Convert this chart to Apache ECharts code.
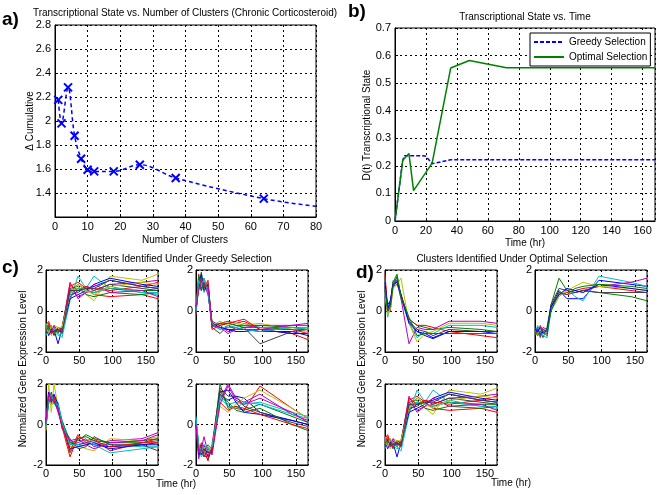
<!DOCTYPE html>
<html><head><meta charset="utf-8">
<script src="https://cdn.jsdelivr.net/npm/echarts@6/dist/echarts.min.js"></script>
<style>html,body{margin:0;padding:0;background:#fff}#c{width:661px;height:495px}</style>
</head><body><div id="c"></div>
<script>
// ---- Panel a data ----
const A_CLUSTERS = [1, 2, 4, 6, 8, 10, 12, 18, 26, 37, 64, 80];
const A_DELTA = [2.176, 1.98, 2.28, 1.877, 1.686, 1.594, 1.58, 1.58, 1.636, 1.525, 1.353, 1.289];
const A_MARKED = [1, 1, 1, 1, 1, 1, 1, 1, 1, 1, 1, 0];
const A_X_TICKS = [0, 10, 20, 30, 40, 50, 60, 70, 80];
const A_Y_TICKS = [1.2, 1.4, 1.6, 1.8, 2, 2.2, 2.4, 2.6, 2.8];

// ---- Panel b data ----
const B_TIME_GREEDY = [0, 5, 6, 18, 20, 24, 30, 36, 168];
const B_GREEDY = [0, 0.22, 0.237, 0.237, 0.235, 0.208, 0.215, 0.222, 0.222];
const B_TIME_OPT = [0, 5, 9, 12, 24, 36, 48, 72, 168];
const B_OPT = [0, 0.22, 0.245, 0.11, 0.21, 0.555, 0.582, 0.556, 0.556];
const B_NAMES = ['Greedy Selection', 'Optimal Selection'];

// ---- Cluster profiles (c, d) ----
const TIMES = [0, 4, 8, 12, 18, 24, 36, 48, 60, 72, 96, 144, 168];
const CLUSTER_COLORS = ['#0000ff', '#008000', '#ff0000', '#00bfbf', '#bf00bf', '#bfbf00', '#404040'];

const C1_LINES = [
  [-1.0,-0.8,-1.1,-0.9,-1.6,-0.9, 0.7, 1.0, 1.1, 1.2, 1.5, 1.2, 1.1],
  [-0.8,-1.0,-0.7,-1.1,-0.9,-1.0, 0.9, 1.3, 1.0, 0.9, 1.1, 1.0, 1.0],
  [-0.7,-0.5,-0.9,-0.8,-1.0,-0.8, 1.2, 1.4, 1.1, 0.8, 0.7, 0.8, 0.6],
  [-1.2,-0.9,-1.0,-0.8,-1.1,-1.3, 0.5, 1.7, 1.1, 1.7, 1.1, 0.9, 0.8],
  [-0.9,-1.1,-0.8,-1.0,-0.9,-0.9, 1.4, 0.6, 0.9, 1.0, 1.3, 1.4, 1.5],
  [-0.6,-0.9,-1.2,-0.7,-0.8,-1.0, 1.0, 1.1, 0.8, 0.5, 1.7, 1.5, 1.8],
  [-1.1,-0.7,-0.9,-1.2,-0.8,-0.9, 0.8, 0.9, 1.2, 1.0, 1.3, 1.1, 1.0],
  [-0.8,-1.2,-0.9,-0.8,-1.0,-1.0, 0.6, 0.8, 1.0, 1.3, 1.6, 1.3, 1.2],
  [-1.0,-0.8,-1.0,-0.9,-1.1,-0.8, 1.1, 1.2, 0.8, 0.7, 0.9, 0.8, 0.9],
  [-0.9,-0.6,-1.0,-1.1,-0.9,-1.0, 1.3, 1.0, 1.2, 1.1, 1.0, 1.2, 1.4],
  [-0.7,-1.0,-0.8,-1.0,-1.2,-1.1, 0.9, 1.1, 1.0, 0.9, 1.2, 0.9, 0.9],
  [-1.0,-0.9,-1.1,-0.7,-1.0,-0.9, 1.1, 0.7, 0.9, 1.3, 0.9, 1.0, 0.7],
  [-0.8,-1.1,-0.7,-0.9,-0.8,-0.8, 0.8, 1.3, 1.0, 0.8, 1.2, 1.4, 1.3],
  [-0.9,-0.8,-1.0,-1.0,-0.9,-1.1, 1.0, 1.0, 1.1, 1.1, 1.5, 1.2, 1.1]
];
const C2_LINES = [
  [ 0.0, 1.5, 1.0, 1.4, 0.9,-0.7,-0.8,-0.9,-0.9,-0.9,-1.0,-1.0,-1.2],
  [ 0.2, 1.2, 1.9, 1.1, 1.3,-0.6,-0.7,-0.6,-0.7,-0.8,-0.8,-0.9,-0.9],
  [-0.1, 1.8, 1.2, 1.6, 1.0,-0.8,-0.6,-0.5,-0.6,-0.5,-0.9,-1.1,-1.4],
  [ 0.3, 1.0, 1.7, 0.9, 1.4,-0.7,-0.9,-0.8,-0.8,-0.6,-0.8,-0.8,-0.8],
  [-0.2, 1.4, 1.1, 1.3, 0.8,-0.5,-0.7,-1.0,-0.9,-0.8,-0.7,-0.7,-0.7],
  [ 0.1, 1.6, 1.3, 1.5, 1.1,-0.7,-0.5,-0.7,-0.6,-0.7,-0.6,-0.9,-1.0],
  [ 0.0, 1.1, 1.5, 1.2, 1.2,-0.8,-1.1,-0.7,-0.9,-0.8,-1.6,-1.0,-0.9],
  [ 0.2, 1.3, 1.8, 1.0, 1.3,-0.6,-0.8,-0.9,-1.0,-1.0,-0.9,-1.1,-1.1],
  [-0.1, 1.7, 1.0, 1.4, 1.0,-0.7,-0.6,-0.6,-0.7,-0.7,-0.7,-0.8,-0.9],
  [ 0.1, 1.2, 1.6, 1.1, 1.5,-0.9,-0.7,-0.6,-0.5,-0.4,-0.9,-0.9,-1.1],
  [ 0.0, 1.5, 1.2, 1.6, 0.9,-0.6,-0.9,-0.7,-0.8,-0.9,-1.0,-0.8,-0.9],
  [ 0.2, 1.0, 1.4, 1.3, 1.2,-0.7,-0.8,-1.1,-0.9,-0.9,-0.9,-0.7,-0.6]
];
const C3_LINES = [
  [ 0.0, 1.5, 1.3, 1.2, 0.8, 0.0,-0.9,-1.0,-0.9,-1.0,-1.1,-1.0,-0.9],
  [ 0.2, 1.2, 1.5, 1.1, 0.7, 0.1,-1.4,-0.7,-0.6,-0.8,-0.9,-0.9,-0.8],
  [-0.1, 1.6, 1.2, 1.4, 0.9,-0.1,-1.6,-0.6,-0.8,-0.7,-1.3,-0.9,-0.7],
  [ 0.1, 1.0, 1.4, 1.0, 1.1, 0.2,-0.8,-1.1,-1.0,-0.9,-1.0,-1.1,-1.1],
  [-0.2, 1.4, 1.0, 1.3, 0.6, 0.0,-1.0,-0.9,-0.7,-1.1,-0.8,-0.7,-0.4],
  [-0.3, 2.0, 0.6, 2.0, 0.9, 0.1,-1.1,-1.0,-1.2,-1.3,-0.7,-0.8,-0.6],
  [ 0.0, 1.3, 1.6, 1.1, 0.8,-0.1,-0.7,-1.2,-1.1,-0.6,-1.0,-1.0,-1.3],
  [ 0.2, 1.6, 1.1, 1.5, 1.0, 0.0,-1.2,-1.1,-1.0,-0.9,-1.2,-1.0,-1.0],
  [ 0.0, 1.1, 1.4, 1.2, 0.9, 0.2,-0.9,-0.8,-0.5,-0.7,-0.9,-0.8,-0.7],
  [ 0.1, 1.4, 1.2, 1.3, 0.7, 0.0,-1.3,-0.5,-0.9,-0.8,-1.1,-0.9,-0.9],
  [-0.1, 1.2, 1.5, 1.0, 1.0, 0.1,-1.0,-1.0,-0.8,-1.0,-1.4,-1.2,-1.1],
  [ 0.1, 1.5, 1.3, 1.1, 0.8,-0.2,-0.8,-0.7,-1.0,-1.2,-0.9,-0.8,-0.5]
];
const C4_LINES = [
  [ 0.0,-1.2,-1.5,-1.0,-1.6,-1.2, 1.5, 1.2, 1.4, 1.3, 0.6, 0.2, 0.0],
  [ 0.2,-1.0,-1.3,-1.6,-1.2,-1.4, 2.0, 0.8, 0.9, 0.7, 1.0, 0.4, 0.1],
  [-0.1,-1.4,-0.9,-1.2,-1.8,-1.0, 1.7, 0.9, 0.8, 0.7, 1.9, 0.8, 0.3],
  [ 0.4,-1.1,-1.6,-1.4,-1.1,-1.5, 1.4, 1.0, 1.1, 1.0, 1.1, 0.6, 0.4],
  [ 0.0,-1.7,-1.2,-0.6,-1.4,-1.3, 1.2, 2.0, 1.3, 1.1, 1.5, 0.5, 0.2],
  [ 0.1,-0.9,-1.4,-1.1,-1.3,-1.1, 0.9, 0.6, 1.0, 1.3, 1.7, 0.8, 0.3],
  [ 0.0,-1.3,-1.0,-1.5,-1.7,-1.2, 1.8, 1.4, 1.4, 0.9, 0.6, 0.1,-0.1],
  [ 0.2,-1.5,-1.3,-1.2,-1.4,-1.4, 1.6, 1.7, 1.1, 0.6, 0.5, 0.2, 0.0],
  [ 0.0,-1.1,-1.5,-1.3,-1.0,-1.2, 1.5, 1.1, 0.7, 0.6, 0.8, 0.0,-0.3],
  [ 0.1,-1.2,-1.1,-1.4,-1.5,-1.3, 1.1, 0.7, 0.9, 0.8, 0.5, 0.0,-0.2],
  [ 0.3,-1.0,-1.4,-1.0,-1.2,-1.1, 1.3, 0.9, 0.8, 1.1, 1.0, 0.5, 0.3],
  [ 0.0,-1.4,-1.2,-1.6,-1.3,-1.5, 1.0, 1.9, 1.2, 1.0, 1.3, 0.6, 0.1]
];
const D1_LINES = [
  [ 1.2, 0.3, 0.5, 1.2, 1.5, 0.8,-0.5,-1.0,-1.2,-1.35,-1.0,-1.0,-1.0],
  [ 1.6,-0.1, 0.3, 1.4, 1.8, 0.7,-0.4,-0.7,-0.8,-0.9,-0.8,-0.9,-1.0],
  [ 1.8, 0.1, 0.0, 1.2, 1.3, 0.8,-0.4,-0.7,-0.7,-0.8,-1.0,-1.2,-1.3],
  [ 0.9,-0.3, 0.2, 1.5, 1.4, 0.6,-0.6,-1.3,-1.0,-1.1,-0.7,-0.7,-0.8],
  [ 0.7, 0.0, 0.4, 1.3, 1.5, 0.6,-1.6,-0.8,-0.9,-0.9,-0.5,-0.5,-0.6],
  [ 0.8,-0.2, 0.1, 1.1, 1.3, 1.6,-0.6,-1.5,-1.1,-1.0,-0.6,-0.6,-0.7],
  [ 1.0, 0.2, 0.3, 1.4, 1.6, 0.7,-0.5,-0.9,-1.0,-1.2,-0.9,-1.0,-1.0],
  [ 1.4, 0.1, 0.5, 1.3, 1.4, 0.8,-0.6,-1.0,-1.1,-1.3,-1.0,-1.0,-1.1],
  [ 1.1, 0.0, 0.2, 1.2, 1.7, 0.7,-0.3,-1.2,-1.1,-1.1,-1.1,-1.1,-1.1]
];
const D2_LINES = [
  [-1.0,-0.8,-1.2,-0.9,-1.0, 0.2, 1.0, 0.6, 0.6, 0.6, 1.5, 1.3, 1.2],
  [-1.2,-0.9,-1.0,-1.3,-0.8, 0.3, 1.6, 1.0, 0.9, 1.0, 0.9, 0.7, 0.5],
  [-0.9,-1.1,-0.7,-1.0,-1.1, 0.1, 0.8, 0.9, 1.0, 1.1, 1.2, 1.0, 0.9],
  [-1.1,-0.7,-1.0,-1.2,-1.3, 0.0, 0.7, 1.1, 0.7, 0.5, 1.7, 1.4, 1.2],
  [-0.8,-1.0,-1.3,-0.8,-0.9, 0.2, 0.9, 0.8, 0.9, 1.0, 1.2, 1.4, 1.6],
  [-1.0,-1.2,-0.9,-1.1,-1.0, 0.1, 0.7, 1.0, 1.2, 1.4, 1.2, 1.1, 1.0],
  [-1.1,-0.9,-1.1,-1.0,-1.2, 0.3, 1.1, 1.0, 0.9, 1.0, 0.9, 0.9, 0.9],
  [-0.9,-1.0,-0.8,-1.1,-0.9, 0.2, 0.8, 1.1, 1.0, 0.9, 1.3, 1.1, 1.0],
  [-1.0,-1.2,-1.0,-0.9,-1.0, 0.0, 0.9, 0.8, 1.1, 1.2, 1.3, 1.2, 1.1]
];
const D3_LINES = C1_LINES; // same cluster appears in both selections

const FONT = "'Liberation Sans', Arial, sans-serif";

const chart = echarts.init(document.getElementById('c'), null, {renderer: 'canvas'});

const grids = [
  {left: 55, top: 25, width: 261, height: 192},
  {left: 395, top: 28, width: 260, height: 193},
  {left: 46, top: 270, width: 112, height: 82},
  {left: 196, top: 270, width: 112, height: 82},
  {left: 46, top: 384, width: 112, height: 81},
  {left: 196, top: 384, width: 112, height: 81},
  {left: 385, top: 270, width: 112, height: 82},
  {left: 535, top: 270, width: 112, height: 82},
  {left: 385, top: 384, width: 112, height: 81}
].map(g => Object.assign({show: true, borderColor: '#000', borderWidth: 1, backgroundColor: '#fff', containLabel: false}, g));

const dotted = {show: true, lineStyle: {color: '#000', type: [2, 3], width: 1}};
function axis(idx, min, max, interval, labelOpts) {
  return {
    type: 'value', gridIndex: idx, min: min, max: max, interval: interval,
    axisLine: {show: true, onZero: false, lineStyle: {color: '#000', width: 1}},
    axisTick: {show: true, inside: true, length: 3, lineStyle: {color: '#000'}},
    axisLabel: Object.assign({color: '#000', fontSize: 11, fontFamily: FONT, margin: 4}, labelOpts || {}),
    splitLine: dotted
  };
}

const xAxes = [
  axis(0, A_X_TICKS[0], A_X_TICKS[A_X_TICKS.length - 1], 10),
  axis(1, 0, 168, 20, {showMaxLabel: false})
];
const yAxes = [
  axis(0, A_Y_TICKS[0], A_Y_TICKS[A_Y_TICKS.length - 1], 0.2, {showMinLabel: false}),
  axis(1, 0, 0.7, 0.1)
];
for (let k = 2; k < 9; k++) {
  xAxes.push(axis(k, 0, 168, 50, {margin: 3, showMaxLabel: false}));
  yAxes.push(axis(k, -2, 2, 2, {margin: 3}));
}

const CROSS = 'path://M0,0L10,10M10,0L0,10';
const series = [];
series.push({
  type: 'line', xAxisIndex: 0, yAxisIndex: 0, smooth: 0.35,
  data: A_CLUSTERS.map((x, i) => ({value: [x, A_DELTA[i]], symbol: A_MARKED[i] ? CROSS : 'none'})),
  symbolSize: 8,
  itemStyle: {color: '#0000ff', borderColor: '#0000ff', borderWidth: 2},
  lineStyle: {color: '#0000ff', width: 1.5, type: [4, 3]}
});
series.push({
  name: B_NAMES[0], type: 'line', xAxisIndex: 1, yAxisIndex: 1, symbol: 'none',
  data: B_TIME_GREEDY.map((t, i) => [t, B_GREEDY[i]]),
  itemStyle: {color: '#0000ff'},
  lineStyle: {color: '#0000ff', width: 1.5, type: [4, 2]}
});
series.push({
  name: B_NAMES[1], type: 'line', xAxisIndex: 1, yAxisIndex: 1, symbol: 'none',
  data: B_TIME_OPT.map((t, i) => [t, B_OPT[i]]),
  itemStyle: {color: '#008000'},
  lineStyle: {color: '#008000', width: 1.5}
});
const clusterSets = [C1_LINES, C2_LINES, C3_LINES, C4_LINES, D1_LINES, D2_LINES, D3_LINES];
clusterSets.forEach((lines, s) => {
  lines.forEach((vals, i) => {
    const col = CLUSTER_COLORS[i % CLUSTER_COLORS.length];
    series.push({
      type: 'line', xAxisIndex: s + 2, yAxisIndex: s + 2, symbol: 'none', silent: true,
      data: TIMES.map((t, j) => [t, vals[j]]),
      itemStyle: {color: col},
      lineStyle: {color: col, width: 1}
    });
  });
});

function txt(x, y, text, size, rot) {
  const el = {
    type: 'text', x: x, y: y, silent: true,
    style: {text: text, font: size + 'px ' + FONT, fill: '#000', textAlign: 'center', textVerticalAlign: 'middle'}
  };
  if (rot) el.rotation = rot;
  return el;
}
function bold(x, y, text) {
  return {type: 'text', x: x, y: y, silent: true,
    style: {text: text, font: 'bold 19px ' + FONT, fill: '#000', textAlign: 'left', textVerticalAlign: 'middle'}};
}

const graphic = [
  bold(2, 20, 'a)'), bold(348, 12, 'b)'), bold(2, 268, 'c)'), bold(356, 273, 'd)'),
  txt(185, 13, 'Transcriptional State vs. Number of Clusters (Chronic Corticosteroid)', 10),
  txt(525, 17, 'Transcriptional State vs. Time', 10),
  txt(185, 240, 'Number of Clusters', 10),
  txt(525, 243, 'Time (hr)', 10),
  txt(30, 121, 'Δ Cumulative', 10, Math.PI / 2),
  txt(367, 125, 'D(t) Transcriptional State', 10, Math.PI / 2),
  txt(177, 259, 'Clusters Identified Under Greedy Selection', 10),
  txt(512, 259, 'Clusters Identified Under Optimal Selection', 10),
  txt(23, 369, 'Normalized Gene Expression Level', 10, Math.PI / 2),
  txt(362, 369, 'Normalized Gene Expression Level', 10, Math.PI / 2),
  txt(176, 484, 'Time (hr)', 10),
  txt(511, 483, 'Time (hr)', 10)
];

chart.setOption({
  animation: false,
  backgroundColor: '#fff',
  grid: grids,
  xAxis: xAxes,
  yAxis: yAxes,
  legend: {
    data: B_NAMES, orient: 'vertical', left: 530, top: 33,
    itemWidth: 30, itemHeight: 10, itemGap: 5,
    padding: [4, 3, 4, 3],
    borderColor: '#000', borderWidth: 1, backgroundColor: '#fff',
    itemStyle: {opacity: 0},
    textStyle: {color: '#000', fontSize: 10, fontFamily: FONT}
  },
  series: series,
  graphic: graphic
});
</script>
</body></html>
